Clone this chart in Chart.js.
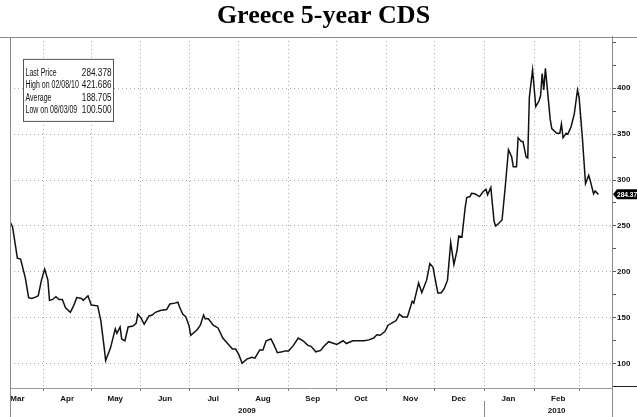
<!DOCTYPE html>
<html>
<head>
<meta charset="utf-8">
<script src="https://cdn.jsdelivr.net/npm/chart.js@4"></script>
<style>
  html, body { margin: 0; padding: 0; background: #fff; }
  #wrap { width: 637px; height: 417px; }
</style>
</head>
<body>
<div id="wrap"><canvas id="myChart" width="637" height="417"></canvas></div>
<script>
// days counted from 1 March 2009
const days = [10, 12, 15, 17, 19, 20, 22, 24, 27, 28, 30, 32, 34, 35, 37, 39, 41, 43, 45, 48,
  50, 52, 55, 56, 59, 61, 65, 67, 69, 70, 73, 76, 77, 79, 80, 82, 84, 87, 89, 90,
  92, 94, 97, 99, 101, 104, 108, 110, 113, 115, 116, 118, 120, 122, 123, 127, 129, 131, 132, 134,
  137, 140, 143, 146, 149, 151, 153, 155, 158, 161, 163, 166, 168, 170, 173, 175, 177, 180, 182, 184,
  187, 190, 193, 196, 198, 201, 204, 206, 209, 214, 218, 220, 224, 228, 231, 234, 237, 239, 241, 244,
  246, 249, 251, 253, 255, 258, 261, 262, 265, 267, 270, 272, 274, 275, 277, 279, 281, 283, 285, 287,
  289, 290, 292, 294, 295, 297, 298, 300, 303, 305, 307, 308, 310, 312, 313, 315, 317, 319, 321, 323,
  324, 326, 327, 329, 330, 332, 333, 334, 336, 338, 340, 341, 342, 343, 344, 347, 348, 351, 353, 354,
  355, 357, 358, 360, 362, 364, 365, 367, 369, 371, 372, 374, 375, 377];
const cds = [256, 249, 215, 214, 200, 193, 172, 171, 173, 174, 191, 203, 191, 169, 170, 173, 170, 170, 161, 156,
  163, 172, 171, 169, 174, 164, 163, 147, 119, 103.5, 117, 138, 133, 140, 127, 125, 140, 141, 144, 154,
  150, 143, 152, 153, 156, 158, 159, 165, 166, 167, 162, 154, 151, 141, 131, 137, 142, 153, 149, 149,
  142, 139, 128, 122, 116, 116, 110, 100.5, 105, 107, 106, 115, 115, 125, 127, 120, 112, 113, 114, 114,
  120, 128, 125, 120, 119, 113, 114.5, 119, 124, 121, 125, 122, 125, 125, 125, 126, 128, 131.5, 131, 135,
  142, 145, 147, 154, 151, 151, 168, 166, 188, 177.5, 191, 209, 205, 195, 177, 177, 182, 191, 232, 208,
  224, 239, 238, 270, 281, 282, 285.5, 285, 282, 287, 290, 284, 292, 255, 250, 253, 256.5, 293, 333, 325,
  314.5, 314.5, 346, 342, 342, 325, 324, 390, 420, 380, 386, 392, 416, 398, 421.686, 366, 356, 351, 351, 361,
  346, 351, 350, 358, 372, 398, 390, 347, 296, 305, 299, 285, 288, 284.378];

const monthNames = ["Mar", "Apr", "May", "Jun", "Jul", "Aug", "Sep", "Oct", "Nov", "Dec", "Jan", "Feb"];
const monthStarts = [0, 31, 61, 92, 122, 153, 184, 214, 245, 275, 306, 337, 365];
const yearNames = ["2009", "2010"];
const yearMid = [158, 351];
const yTicks = [75, 100, 125, 150, 175, 200, 225, 250, 275, 300, 325, 350, 375, 400, 425, 450];

const infoRows = [
  ["Last Price", "284.378"],
  ["High on 02/08/10", "421.686"],
  ["Average", "188.705"],
  ["Low on 08/03/09", "100.500"],
];

const sans = "'Liberation Sans', Arial, sans-serif";

// month label positions (middle of each month) mixed with grid positions (month starts)
const labelAt = {};
monthNames.forEach((m, i) => { labelAt[monthStarts[i] + 15] = m; });
const xTickValues = monthStarts.slice(1).concat(Object.keys(labelAt).map(Number)).sort((a, b) => a - b);

// narrow text: squeeze horizontally
function narrowText(ctx, text, x, y, align, sx) {
  ctx.save();
  ctx.translate(x, y);
  ctx.scale(sx, 1);
  ctx.textAlign = align;
  ctx.fillText(text, 0, 0);
  ctx.restore();
}

const decorations = {
  id: "decorations",
  afterDraw(chart) {
    const { ctx, chartArea: a, scales } = chart;
    const W = chart.width, H = chart.height;
    ctx.save();
    // frame lines
    ctx.strokeStyle = "#8a8a8a";
    ctx.lineWidth = 1;
    ctx.beginPath();
    ctx.moveTo(0, Math.round(a.top) + 0.5);
    ctx.lineTo(W, Math.round(a.top) + 0.5);
    ctx.moveTo(Math.round(a.left) + 0.5, a.top);
    ctx.lineTo(Math.round(a.left) + 0.5, H);
    ctx.moveTo(Math.round(a.right) + 0.5, a.bottom);
    ctx.lineTo(Math.round(a.right) + 0.5, H);
    const xs = Math.round(scales.x.getPixelForValue(306)) + 0.5;
    ctx.moveTo(xs, scales.yr.top - 4);
    ctx.lineTo(xs, H);
    ctx.stroke();
    ctx.strokeStyle = "#222";
    ctx.beginPath();
    ctx.moveTo(a.right + 1, Math.round(a.bottom) - 1.5);
    ctx.lineTo(W, Math.round(a.bottom) - 1.5);
    ctx.stroke();

    // info box
    const bx = a.left + 13.5, by = a.top + 22.5, bw = 90, bh = 62;
    ctx.fillStyle = "#fff";
    ctx.fillRect(bx, by, bw, bh);
    ctx.strokeStyle = "#555";
    ctx.strokeRect(bx, by, bw, bh);
    ctx.fillStyle = "#111";
    ctx.font = "10px " + sans;
    ctx.textBaseline = "middle";
    infoRows.forEach((r, i) => {
      const ty = by + 13.5 + i * 12.5;
      narrowText(ctx, r[0], bx + 2, ty, "left", 0.7);
      narrowText(ctx, r[1], bx + bw - 2, ty, "right", 0.82);
    });

    // last price flag
    const last = cds[cds.length - 1];
    const fy = scales.y.getPixelForValue(last);
    const fx = a.right + 1;
    ctx.fillStyle = "#000";
    ctx.beginPath();
    ctx.moveTo(fx, fy);
    ctx.lineTo(fx + 4, fy - 5);
    ctx.lineTo(W, fy - 5);
    ctx.lineTo(W, fy + 5);
    ctx.lineTo(fx + 4, fy + 5);
    ctx.closePath();
    ctx.fill();
    ctx.fillStyle = "#fff";
    ctx.font = "bold 8px " + sans;
    narrowText(ctx, last.toFixed(3), fx + 4, fy + 0.5, "left", 0.82);
    ctx.restore();
  }
};

const tickFont = { family: sans, size: 8, weight: "bold" };

var ctx = document.getElementById("myChart").getContext("2d");
var myChart = new Chart(ctx, {
  type: "line",
  data: {
    datasets: [
      {
        data: days.map((d, i) => ({ x: d, y: cds[i] })),
        borderColor: "#111",
        borderWidth: 1.5,
        pointRadius: 0,
        tension: 0,
        fill: false,
      },
    ],
  },
  options: {
    responsive: false,
    animation: false,
    layout: { padding: { left: 10, right: 0, top: 0, bottom: 0 } },
    plugins: {
      legend: { display: false },
      tooltip: { enabled: false },
      title: {
        display: true,
        text: "Greece 5-year CDS",
        color: "#000",
        font: { family: "'Liberation Serif', 'Times New Roman', serif", size: 26, weight: "bold", lineHeight: 1.15 },
        padding: { top: 1, bottom: 6 },
      },
    },
    scales: {
      x: {
        type: "linear",
        position: "bottom",
        min: 10.4,
        max: 385.5,
        afterBuildTicks: (s) => { s.ticks = xTickValues.map((v) => ({ value: v })); },
        afterFit: (s) => { s.height = 17; },
        grid: {
          color: (c) => (c.tick && monthStarts.includes(c.tick.value) ? "#a8a8a8" : "rgba(0,0,0,0)"),
          tickColor: (c) => (c.tick && monthStarts.includes(c.tick.value) ? "#777" : "rgba(0,0,0,0)"),
          tickLength: 3,
          lineWidth: 1,
        },
        border: { display: true, color: "#9a9a9a", dash: [1, 3] },
        ticks: {
          autoSkip: false,
          maxRotation: 0,
          padding: 3,
          color: "#111",
          font: tickFont,
          callback: (v) => labelAt[v] || "",
        },
      },
      yr: {
        type: "linear",
        position: "bottom",
        weight: 1,
        min: 10.4,
        max: 385.5,
        afterBuildTicks: (s) => { s.ticks = yearMid.map((v) => ({ value: v })); },
        afterFit: (s) => { s.height = 12; },
        grid: { display: false, drawTicks: false },
        border: { display: false },
        ticks: {
          autoSkip: false,
          maxRotation: 0,
          padding: 1,
          color: "#111",
          font: tickFont,
          callback: (v) => yearNames[yearMid.indexOf(v)],
        },
      },
      y: {
        type: "linear",
        position: "right",
        min: 73.6,
        max: 455.8,
        afterBuildTicks: (s) => { s.ticks = yTicks.map((v) => ({ value: v })); },
        afterFit: (s) => { s.width = 25; },
        grid: {
          color: (c) => (c.tick && c.tick.value % 50 === 0 && c.tick.value <= 400 ? "#a8a8a8" : "rgba(0,0,0,0)"),
          tickColor: "#555",
          tickLength: 4,
        },
        border: { display: true, color: "#8a8a8a", dash: [1, 3] },
        ticks: {
          padding: 1,
          color: "#111",
          font: tickFont,
          callback: (v) => (v % 50 === 0 && v <= 400 ? String(v) : ""),
        },
      },
    },
  },
  plugins: [decorations],
});
</script>
</body>
</html>
